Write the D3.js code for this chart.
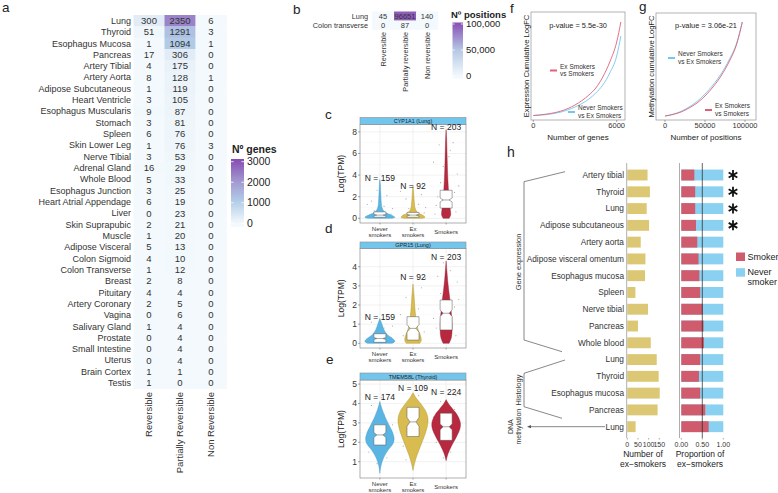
<!DOCTYPE html>
<html><head><meta charset="utf-8">
<script src="https://cdn.jsdelivr.net/npm/d3@7"></script>
<style>body{margin:0;background:#fff}svg{font-family:"Liberation Sans",Arial,Helvetica,sans-serif}</style>
</head><body><svg id="chart" width="778" height="493"></svg>
<script>
// ================= DATA =================
// panel a
const tissuesA = ["Lung","Thyroid","Esophagus Mucosa","Pancreas","Artery Tibial","Artery Aorta","Adipose Subcutaneous","Heart Ventricle","Esophagus Muscularis","Stomach","Spleen","Skin Lower Leg","Nerve Tibial","Adrenal Gland","Whole Blood","Esophagus Junction","Heart Atrial Appendage","Liver","Skin Suprapubic","Muscle","Adipose Visceral","Colon Sigmoid","Colon Transverse","Breast","Pituitary","Artery Coronary","Vagina","Salivary Gland","Prostate","Small Intestine","Uterus","Brain Cortex","Testis"];
const reversibleA = [300,51,1,17,4,8,1,3,9,3,6,1,3,16,5,3,6,0,2,1,5,4,1,2,4,2,0,1,0,0,0,1,1];
const partialA = [2350,1291,1094,306,175,128,119,105,87,81,76,76,53,29,33,25,19,23,21,20,13,10,12,8,4,5,6,4,4,4,4,1,0];
const nonRevA = [6,3,1,0,0,1,0,0,0,0,0,3,0,0,0,0,0,0,0,0,0,0,0,0,0,0,0,0,0,0,0,0,0];
const colsA = ["Reversible","Partially Reversible","Non Reversible"];
const legendTicksA = [0,1000,2000,3000];
// panel b
const rowsB = ["Lung","Colon transverse"];
const colsB = ["Reversible","Partially reversible","Non reversible"];
const reversibleB = [45,0];
const partialB = [96651,87];
const nonRevB = [140,0];
const legendTicksB = [0,50000,100000];
// panels c, d, e
const groupLabels = [["Never","smokers"],["Ex","smokers"],["Smokers"]];
const genesCDE = ["CYP1A1 (Lung)","GPR15 (Lung)","TMEM58L (Thyroid)"];
const nC = [159,92,203], nD = [159,92,203], nE = [174,109,224];
const nLabelYC = [3.75,3.0,8.45], nLabelYD = [1.36,3.48,4.52], nLabelYE = [4.35,4.78,4.58];
const ticksC = [0,2,4,6,8], ticksD = [0,1,2,3,4], ticksE = [1,2,3,4,5];
// violin outlines: [value, relative half-width]
const violinC = [
  [[0,0.75],[0.1,1],[0.25,0.85],[0.45,0.5],[0.7,0.25],[1,0.14],[1.5,0.09],[2,0.07],[2.6,0.05],[3.2,0.03],[3.6,0]],
  [[0,0.6],[0.1,0.8],[0.25,0.7],[0.45,0.4],[0.7,0.22],[1,0.13],[1.5,0.09],[2,0.06],[2.5,0.04],[3.0,0]],
  [[0,0.2],[0.3,0.3],[0.8,0.28],[1.5,0.22],[2.5,0.16],[3.5,0.12],[4.5,0.09],[5.5,0.07],[6.5,0.05],[7.5,0.03],[8.2,0]]];
const violinD = [
  [[0,0.8],[0.1,1],[0.25,0.85],[0.45,0.5],[0.7,0.28],[1.0,0.14],[1.3,0]],
  [[0,0.45],[0.15,0.55],[0.4,0.5],[0.7,0.35],[1.0,0.25],[1.4,0.18],[1.9,0.12],[2.4,0.08],[2.8,0.04],[3.1,0]],
  [[0,0.2],[0.3,0.35],[0.8,0.4],[1.3,0.38],[1.8,0.32],[2.3,0.25],[2.8,0.17],[3.3,0.1],[3.8,0.05],[4.3,0]]];
const violinE = [
  [[0.4,0],[0.8,0.08],[1.2,0.25],[1.6,0.55],[1.9,0.85],[2.15,0.95],[2.5,0.85],[2.9,0.6],[3.3,0.35],[3.7,0.15],[4.1,0]],
  [[0.55,0],[0.9,0.1],[1.3,0.25],[1.8,0.5],[2.3,0.75],[2.8,0.95],[3.2,1],[3.6,0.85],[4.0,0.5],[4.3,0.2],[4.55,0]],
  [[1.05,0],[1.4,0.12],[1.8,0.35],[2.3,0.7],[2.7,0.92],[3.0,0.95],[3.4,0.75],[3.7,0.45],[4.0,0.15],[4.2,0]]];
// boxes: [q1, median, q3]
const boxC = [[0.1,0.3,0.6],[0.1,0.3,0.55],[0.95,1.7,2.6]];
const boxD = [[0.05,0.25,0.5],[0.17,0.78,1.39],[0.7,1.57,2.26]];
const boxE = [[1.86,2.38,2.9],[2.3,3.05,3.8],[2.1,2.8,3.5]];
// jittered observations: [group, jitter, value]
const ptsC = [[0,-0.8,0.2],[0,-0.4,0.7],[0,0.3,1.1],[0,0.8,0.4],[0,-0.6,1.6],[0,0.5,2.1],[0,0.1,0.05],[0,-0.2,2.6],[0,0.9,0.9],[0,-0.9,1.3],
  [1,-0.7,0.3],[1,-0.3,0.9],[1,0.4,1.3],[1,0.8,0.5],[1,-0.5,1.8],[1,0.6,2.2],[1,0.2,0.1],[1,-0.9,2.5],[1,0.9,1.0],
  [2,-0.7,1.2],[2,0.6,2.4],[2,-0.4,3.3],[2,0.8,4.1],[2,-0.9,5.2],[2,0.3,6.3],[2,0.7,0.6],[2,-0.2,4.8],[2,0.9,3.0],[2,-0.6,2.0],[2,0.5,7.0],[2,-0.8,0.4],[2,0.2,5.7],[2,-0.5,6.8]];
const ptsD = [[0,-0.8,0.1],[0,-0.4,0.5],[0,0.3,0.8],[0,0.8,0.3],[0,-0.6,1.1],[0,0.5,0.2],[0,0.1,0.6],[0,-0.2,1.4],[0,0.9,0.9],
  [1,-0.7,0.4],[1,-0.3,1.2],[1,0.4,1.8],[1,0.8,0.6],[1,-0.5,2.4],[1,0.6,2.9],[1,0.2,0.2],[1,-0.9,1.5],[1,0.9,3.4],
  [2,-0.7,0.8],[2,0.6,1.9],[2,-0.4,2.6],[2,0.8,3.2],[2,-0.9,1.3],[2,0.3,3.8],[2,0.7,0.4],[2,-0.2,4.2],[2,0.9,2.3],[2,-0.6,3.5]];
const ptsE = [[0,-0.8,1.5],[0,-0.4,2.8],[0,0.3,3.4],[0,0.8,2.2],[0,-0.6,3.9],[0,0.5,1.2],[0,0.1,4.3],[0,-0.2,0.9],[0,0.9,2.9],
  [1,-0.7,1.8],[1,-0.3,3.6],[1,0.4,4.4],[1,0.8,2.5],[1,-0.5,1.1],[1,0.6,3.9],[1,0.2,4.8],[1,-0.9,3.1],
  [2,-0.7,2.0],[2,0.6,3.7],[2,-0.4,4.1],[2,0.8,2.6],[2,-0.9,3.3],[2,0.3,1.5],[2,0.7,4.4],[2,-0.2,1.2],[2,0.9,3.0]];
// panel f (cumulative logFC, arbitrary units)
const genesF = [0,1000,2000,3000,4000,4500,5000,5500,6000,6300];
const exVsSmF = [0.5,2,5,11,21,28,39,54,74,94];
const neverVsExF = [0.5,1.5,4,9,17,23,31,43,60,80];
const ticksF = [0,6000];
// panel g
const posG = [0,10000,20000,30000,40000,50000,60000,70000,80000,90000,96651];
const exVsSmG = [0,1.5,4,8,13,20,29,40,54,73,94];
const neverVsExG = [0,1.8,4.6,9,14.5,22,31,42,56,74,94];
const ticksG = [0,50000,100000];
// panel h
const catsH = ["Artery tibial","Thyroid","Lung","Adipose subcutaneous","Artery aorta","Adipose visceral omentum","Esophagus mucosa","Spleen","Nerve tibial","Pancreas","Whole blood","Lung","Thyroid","Esophagus mucosa","Pancreas","Lung"];
const exSmokersH = [95,106,91,102,63,85,83,38,97,50,110,138,147,152,142,39];
const smokerPropH = [0.31,0.33,0.33,0.35,0.38,0.41,0.43,0.45,0.51,0.53,0.54,0.45,0.42,0.45,0.57,0.65];
const sigH = [1,1,1,1,0,0,0,0,0,0,0,0,0,0,0,0];
const ticksH1 = [0,50,100,150];
const ticksH2 = [0,0.5,1];

// ================= DRAW =================
const svg = d3.select("#chart");
svg.append("rect").attr("width",778).attr("height",493).attr("fill","#fff");
function T(p,x,y,s,size,anchor,fill,weight){return p.append("text").attr("x",x).attr("y",y).attr("font-size",size).attr("text-anchor",anchor||"start").attr("fill",fill||"#222").attr("font-weight",weight||"normal").text(s);}
function TR(p,x,y,s,size,anchor,fill){return p.append("text").attr("transform",`translate(${x},${y}) rotate(-90)`).attr("font-size",size).attr("text-anchor",anchor||"middle").attr("fill",fill||"#222").text(s);}
function gradBar(id,g,x,y0,y1,w,scaleY,color){
  const grad = svg.append("defs").append("linearGradient").attr("id",id).attr("x1",0).attr("x2",0).attr("y1",1).attr("y2",0);
  d3.range(0,1.0001,0.05).forEach(f=>{
    const py = y1 - f*(y1-y0);
    const v = Math.max(0, scaleY.invert(py));
    grad.append("stop").attr("offset",f).attr("stop-color",color(v));
  });
  g.append("rect").attr("x",x).attr("y",y0).attr("width",w).attr("height",y1-y0).attr("fill",`url(#${id})`);
}

// panel letters
[["a",2,12],["b",293,13.5],["c",325,119],["d",325,233],["e",326,364],["f",510,12.5],["g",639,11]].forEach(d=>T(svg,d[1],d[2],d[0],13.5,"start","#222"));
T(svg,507,157,"h",14,"start","#222");

// ---- Panel a ----
{
  const g = svg.append("g");
  const y = d3.scaleBand().domain(d3.range(tissuesA.length)).range([15,388.6]);
  const x = d3.scaleBand().domain(colsA).range([133.5,226.5]);
  const color = d3.scaleLinear().domain([0,1100,2000,3000]).range(["#f3f9fc","#b1cbe7","#a39bd1","#8a55b6"]);
  const vals = [reversibleA, partialA, nonRevA];
  colsA.forEach((c,j)=>{
    g.append("g").selectAll("rect").data(vals[j]).join("rect")
      .attr("x",x(c)).attr("y",(d,i)=>y(i)).attr("width",x.bandwidth()+0.3).attr("height",y.bandwidth()+0.3).attr("fill",d=>color(d));
    g.append("g").selectAll("text").data(vals[j]).join("text")
      .attr("x",x(c)+x.bandwidth()/2).attr("y",(d,i)=>y(i)+y.bandwidth()/2+3.4)
      .attr("text-anchor","middle").attr("font-size",9.5).attr("fill","#333").text(d=>d);
    TR(g, x(c)+x.bandwidth()/2+3.3, 392, c, 9.5, "end", "#333");
  });
  g.append("g").selectAll("text").data(tissuesA).join("text")
    .attr("x",131).attr("y",(d,i)=>y(i)+y.bandwidth()/2+3.2).attr("text-anchor","end")
    .attr("font-size",9).attr("fill","#333").text(d=>d);
  // legend
  T(g,232,153,"Nº genes",10.5,"start","#222","bold");
  const ly = d3.scaleLinear().domain([0,3000]).range([223.3,161.7]);
  gradBar("gA",g,231,159,227,13,ly,color);
  legendTicksA.forEach(t=>{
    g.append("line").attr("x1",231).attr("x2",233.6).attr("y1",ly(t)).attr("y2",ly(t)).attr("stroke","#fff").attr("stroke-width",0.8);
    g.append("line").attr("x1",241.4).attr("x2",244).attr("y1",ly(t)).attr("y2",ly(t)).attr("stroke","#fff").attr("stroke-width",0.8);
    T(g,247,ly(t)+3.6,t,10.5,"start","#222");
  });
}

// ---- Panel b ----
{
  const g = svg.append("g");
  const y = d3.scaleBand().domain(d3.range(rowsB.length)).range([11.5,29.5]);
  const x = d3.scaleBand().domain(colsB).range([372,438]);
  const color = d3.scaleLinear().domain([0,50000,100000]).range(["#f3f9fc","#b5c7e5","#8a55b6"]);
  const vals = [reversibleB, partialB, nonRevB];
  colsB.forEach((c,j)=>{
    g.append("g").selectAll("rect").data(vals[j]).join("rect")
      .attr("x",x(c)).attr("y",(d,i)=>y(i)).attr("width",x.bandwidth()+0.3).attr("height",y.bandwidth()+0.3).attr("fill",d=>color(d));
    g.append("g").selectAll("text").data(vals[j]).join("text")
      .attr("x",x(c)+x.bandwidth()/2).attr("y",(d,i)=>y(i)+y.bandwidth()/2+2.7)
      .attr("text-anchor","middle").attr("font-size",7.5).attr("fill","#333").text(d=>d);
    TR(g, x(c)+x.bandwidth()/2+2.6, 32, c, 7.3, "end", "#333");
  });
  g.append("g").selectAll("text").data(rowsB).join("text")
    .attr("x",368).attr("y",(d,i)=>y(i)+y.bandwidth()/2+2.6).attr("text-anchor","end")
    .attr("font-size",7.3).attr("fill","#333").text(d=>d);
  T(g,451,17.5,"Nº positions",9.5,"start","#222","bold");
  const ly = d3.scaleLinear().domain([0,100000]).range([76,24]);
  gradBar("gB",g,452.5,22.5,78.5,10.5,ly,color);
  legendTicksB.forEach(t=>{
    g.append("line").attr("x1",452.5).attr("x2",454.6).attr("y1",ly(t)).attr("y2",ly(t)).attr("stroke","#fff").attr("stroke-width",0.8);
    g.append("line").attr("x1",460.9).attr("x2",463).attr("y1",ly(t)).attr("y2",ly(t)).attr("stroke","#fff").attr("stroke-width",0.8);
    T(g,466,ly(t)+3.3,d3.format(",")(t),9.5,"start","#222");
  });
}

// ---- Panels c, d, e ----
const vFill = ["#5ab5e3","#d8bc50","#b8283f"], vStroke = ["#3f93bd","#a88f2c","#8a1c2e"];
function violinPanel(cfg){
  const left=360, right=466;
  const g = svg.append("g");
  const pTop = cfg.top + cfg.stripH;
  const x = d3.scalePoint().domain(d3.range(3)).range([left,right]).padding(0.6);
  const y = d3.scaleLinear().domain(cfg.yDomain).range([cfg.bottom, pTop]);
  g.append("rect").attr("x",left).attr("y",pTop).attr("width",right-left).attr("height",cfg.bottom-pTop).attr("fill","#fff");
  const minor = [];
  for(let i=0;i<cfg.ticks.length-1;i++) minor.push((cfg.ticks[i]+cfg.ticks[i+1])/2);
  minor.forEach(t=>g.append("line").attr("x1",left).attr("x2",right).attr("y1",y(t)).attr("y2",y(t)).attr("stroke","#f3f3f3").attr("stroke-width",0.4));
  cfg.ticks.forEach(t=>g.append("line").attr("x1",left).attr("x2",right).attr("y1",y(t)).attr("y2",y(t)).attr("stroke","#e8e8e8").attr("stroke-width",0.6));
  d3.range(3).forEach(i=>g.append("line").attr("x1",x(i)).attr("x2",x(i)).attr("y1",pTop).attr("y2",cfg.bottom).attr("stroke","#e8e8e8").attr("stroke-width",0.6));
  g.append("g").selectAll("circle").data(cfg.pts).join("circle")
    .attr("cx",d=>x(d[0])+d[1]*14).attr("cy",d=>y(d[2])).attr("r",0.6).attr("fill","#8a8a8a").attr("opacity",0.7);
  const hw = 15;
  cfg.violins.forEach((prof,i)=>{
    const area = d3.area().curve(d3.curveCatmullRom)
      .x0(d=>x(i)-d[1]*hw).x1(d=>x(i)+d[1]*hw).y(d=>y(d[0]));
    g.append("path").attr("d",area(prof)).attr("fill",vFill[i]).attr("stroke",vStroke[i]).attr("stroke-width",0.4);
  });
  cfg.boxes.forEach((b,i)=>{
    const [q1,med,q3] = b, n = 1.58*(q3-q1)/Math.sqrt(cfg.ns[i]);
    const cx = x(i), w = 6;
    const pts = [[cx-w,q3],[cx+w,q3],[cx+w,med+n],[cx+w/2,med],[cx+w,med-n],[cx+w,q1],[cx-w,q1],[cx-w,med-n],[cx-w/2,med],[cx-w,med+n]];
    g.append("path").attr("d","M"+pts.map(p=>[p[0],y(p[1])].join(",")).join("L")+"Z")
      .attr("fill","#fff").attr("stroke","#555").attr("stroke-width",0.5);
    g.append("line").attr("x1",cx-w/2).attr("x2",cx+w/2).attr("y1",y(med)).attr("y2",y(med)).attr("stroke","#555").attr("stroke-width",0.5);
  });
  g.append("rect").attr("x",left).attr("y",pTop).attr("width",right-left).attr("height",cfg.bottom-pTop).attr("fill","none").attr("stroke","#8c8c8c").attr("stroke-width",0.7);
  g.append("rect").attr("x",left).attr("y",cfg.top).attr("width",right-left).attr("height",cfg.stripH).attr("fill","#72c6ee").attr("stroke","#8c8c8c").attr("stroke-width",0.6);
  T(g,(left+right)/2,cfg.top+cfg.stripH/2+2,cfg.gene,5.5,"middle","#222");
  cfg.ticks.forEach(t=>{
    g.append("line").attr("x1",left-2).attr("x2",left).attr("y1",y(t)).attr("y2",y(t)).attr("stroke","#555").attr("stroke-width",0.5);
    T(g,left-3,y(t)+3,t,8.5,"end","#333");
  });
  TR(g,344,(pTop+cfg.bottom)/2,"Log(TPM)",8.5,"middle","#222");
  cfg.ns.forEach((n,i)=>T(g,x(i),y(cfg.nY[i])+3,"N = "+n,8.5,"middle","#222"));
  groupLabels.forEach((lab,i)=>{
    g.append("line").attr("x1",x(i)).attr("x2",x(i)).attr("y1",cfg.bottom).attr("y2",cfg.bottom+1.5).attr("stroke","#555").attr("stroke-width",0.5);
    if(lab.length===2){ T(g,x(i),cfg.bottom+7.5,lab[0],6,"middle","#333"); T(g,x(i),cfg.bottom+14,lab[1],6,"middle","#333"); }
    else T(g,x(i),cfg.bottom+10.5,lab[0],6,"middle","#333");
  });
}
violinPanel({top:117.5,stripH:7,bottom:223,yDomain:[-0.43,8.68],ticks:ticksC,gene:genesCDE[0],violins:violinC,boxes:boxC,ns:nC,nY:nLabelYC,pts:ptsC});
violinPanel({top:242,stripH:6.5,bottom:348,yDomain:[-0.245,4.95],ticks:ticksD,gene:genesCDE[1],violins:violinD,boxes:boxD,ns:nD,nY:nLabelYD,pts:ptsD});
violinPanel({top:373,stripH:7,bottom:478,yDomain:[0.16,5.21],ticks:ticksE,gene:genesCDE[2],violins:violinE,boxes:boxE,ns:nE,nY:nLabelYE,pts:ptsE});

// ---- Panels f, g ----
const redL = "#e0607a", blueL = "#73c8ef";
function cumPanel(cfg){
  const g = svg.append("g");
  const x = d3.scaleLinear().domain(cfg.xd).range(cfg.xr);
  const y = d3.scaleLinear().domain([0,100]).range([116,16]);
  g.append("rect").attr("x",cfg.box[0]).attr("y",cfg.box[1]).attr("width",cfg.box[2]-cfg.box[0]).attr("height",cfg.box[3]-cfg.box[1]).attr("fill","#fff").attr("stroke","#a0a0a0").attr("stroke-width",0.8);
  const line = d3.line().curve(d3.curveMonotoneX).x((d,i)=>x(cfg.xs[i])).y(d=>y(d));
  g.append("path").attr("d",line(cfg.blue)).attr("fill","none").attr("stroke",blueL).attr("stroke-width",0.9);
  g.append("path").attr("d",line(cfg.red)).attr("fill","none").attr("stroke",redL).attr("stroke-width",0.9);
  cfg.ticks.forEach(t=>{
    g.append("line").attr("x1",x(t)).attr("x2",x(t)).attr("y1",cfg.box[3]).attr("y2",cfg.box[3]+2).attr("stroke","#555").attr("stroke-width",0.5);
    T(g,x(t),cfg.box[3]+8,t,7.5,"middle","#333");
  });
  T(g,(cfg.box[0]+cfg.box[2])/2,cfg.pY,cfg.p,7.4,"middle","#222");
  cfg.legend.forEach(l=>{
    g.append("line").attr("x1",l.x).attr("x2",l.x+7).attr("y1",l.y).attr("y2",l.y).attr("stroke",l.c).attr("stroke-width",2);
    T(g,l.x+10,l.y-2,l.t[0],6.5,"start","#333");
    T(g,l.x+10,l.y+5.7,l.t[1],6.5,"start","#333");
  });
  TR(g,cfg.ytx,(cfg.box[1]+cfg.box[3])/2,cfg.yt,7.6,"middle","#222");
  T(g,(cfg.box[0]+cfg.box[2])/2,140,cfg.xt,8,"middle","#222");
}
cumPanel({xd:[0,6000],xr:[533.3,616.7],box:[531,12,625,120],xs:genesF,red:exVsSmF,blue:neverVsExF,ticks:ticksF,
  p:"p-value = 5.5e-30",pY:27.5,yt:"Expression Cumulative LogFC",ytx:528.5,xt:"Number of genes",
  legend:[{x:550,y:70.5,c:redL,t:["Ex Smokers","vs Smokers"]},{x:568,y:112,c:blueL,t:["Never Smokers","vs Ex Smokers"]}]});
cumPanel({xd:[0,100000],xr:[665,745],box:[656,13,756,120],xs:posG,red:exVsSmG,blue:neverVsExG,ticks:ticksG,
  p:"p-value = 3.06e-21",pY:27.5,yt:"Methylation cumulative LogFC",ytx:653.5,xt:"Number of positions",
  legend:[{x:668,y:58,c:blueL,t:["Never Smokers","vs Ex Smokers"]},{x:705,y:110,c:redL,t:["Ex Smokers","vs Smokers"]}]});

// ---- Panel h ----
{
  const g = svg.append("g");
  const y = d3.scaleBand().domain(d3.range(catsH.length)).range([163.7,438]).padding(0.35);
  const yc = i => y(i)+y.bandwidth()/2;
  const x1 = d3.scaleLinear().domain([0,150]).range([627.3,659.3]);
  const x2 = d3.scaleLinear().domain([0,1]).range([681.3,723.3]);
  const top = 163, bot = 438;
  g.append("g").selectAll("text").data(catsH).join("text")
    .attr("x",624).attr("y",(d,i)=>yc(i)+2.9).attr("text-anchor","end").attr("font-size",8.3).attr("fill","#333").text(d=>d);
  g.append("g").selectAll("rect").data(exSmokersH).join("rect")
    .attr("x",x1(0)).attr("y",(d,i)=>y(i)).attr("width",d=>x1(d)-x1(0)).attr("height",y.bandwidth()).attr("fill","#dcc874");
  g.append("line").attr("x1",626.7).attr("x2",626.7).attr("y1",top).attr("y2",bot).attr("stroke","#999").attr("stroke-width",0.8);
  ticksH1.forEach(t=>{
    g.append("line").attr("x1",x1(t)).attr("x2",x1(t)).attr("y1",bot).attr("y2",bot+1.5).attr("stroke","#555").attr("stroke-width",0.5);
    T(g,x1(t),446.5,t,7,"middle","#333");
  });
  T(g,643,456.5,"Number of",8.5,"middle","#222");
  T(g,643,466.5,"ex\u2212smokers",8.5,"middle","#222");
  g.append("g").selectAll("rect").data(smokerPropH).join("rect")
    .attr("x",x2(0)).attr("y",(d,i)=>y(i)).attr("width",x2(1)-x2(0)).attr("height",y.bandwidth()).attr("fill","#8ad0f0");
  g.append("g").selectAll("rect").data(smokerPropH).join("rect")
    .attr("x",x2(0)).attr("y",(d,i)=>y(i)).attr("width",d=>x2(d)-x2(0)).attr("height",y.bandwidth()).attr("fill","#cf5b6d");
  g.append("line").attr("x1",679.5).attr("x2",679.5).attr("y1",top).attr("y2",bot).attr("stroke","#999").attr("stroke-width",0.8);
  g.append("line").attr("x1",x2(0.5)).attr("x2",x2(0.5)).attr("y1",top).attr("y2",bot).attr("stroke","#222").attr("stroke-width",0.7);
  ticksH2.forEach(t=>{
    g.append("line").attr("x1",x2(t)).attr("x2",x2(t)).attr("y1",bot).attr("y2",bot+1.5).attr("stroke","#555").attr("stroke-width",0.5);
    T(g,x2(t),446.5,d3.format(".2f")(t),7,"middle","#333");
  });
  T(g,700,456.5,"Proportion of",8.5,"middle","#222");
  T(g,700,466.5,"ex\u2212smokers",8.5,"middle","#222");
  sigH.forEach((s,i)=>{
    if(!s) return;
    const cx=733, cy=yc(i), r=5;
    [90,30,150].forEach(a=>{
      const rad=a*Math.PI/180;
      g.append("line").attr("x1",cx-r*Math.cos(rad)).attr("x2",cx+r*Math.cos(rad)).attr("y1",cy-r*Math.sin(rad)).attr("y2",cy+r*Math.sin(rad)).attr("stroke","#111").attr("stroke-width",1.8);
    });
  });
  g.append("rect").attr("x",736).attr("y",252.5).attr("width",9).attr("height",8.5).attr("fill","#cf5b6d");
  T(g,747.5,260,"Smoker",9,"start","#222");
  g.append("rect").attr("x",736).attr("y",268.2).attr("width",9).attr("height",8.5).attr("fill","#8ad0f0");
  T(g,747.5,275,"Never",9,"start","#222");
  T(g,747.5,285,"smoker",9,"start","#222");
  const br = "#555";
  g.append("path").attr("d",`M565,171.7L524,181.7L524,340L562,351.7`).attr("fill","none").attr("stroke",br).attr("stroke-width",0.7);
  g.append("path").attr("d",`M565,360L524,373.3L524,406.7L562,418.3`).attr("fill","none").attr("stroke",br).attr("stroke-width",0.7);
  g.append("line").attr("x1",605).attr("x2",530).attr("y1",yc(15)).attr("y2",yc(15)).attr("stroke",br).attr("stroke-width",0.7);
  g.append("path").attr("d",`M527,${yc(15)}L531,${yc(15)-1.6}L531,${yc(15)+1.6}Z`).attr("fill",br);
  TR(g,520.5,262,"Gene expression",7.5,"middle","#333");
  TR(g,520.5,390,"Histology",7.5,"middle","#333");
  TR(g,513,yc(15),"DNA",7,"middle","#333");
  TR(g,520.5,yc(15),"methylation",7,"middle","#333");
}
</script></body></html>
